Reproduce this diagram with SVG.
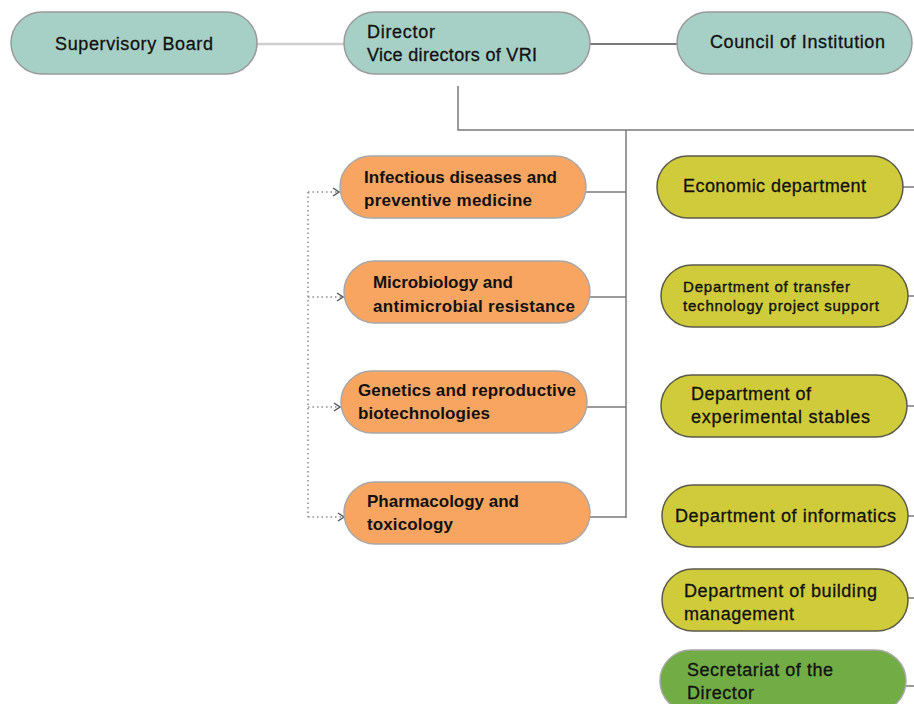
<svg xmlns="http://www.w3.org/2000/svg" width="914" height="704" viewBox="0 0 914 704">
  <style>
    .lbl { font-family: "Liberation Sans", Arial, sans-serif; fill: #111; }
    .top { font-size: 18px; stroke: #111; stroke-width: 0.3; }
    .unit { font-size: 17px; font-weight: bold; }
    .dept { font-size: 18px; stroke: #111; stroke-width: 0.3; }
    .dept-s { font-size: 15px; stroke: #111; stroke-width: 0.35; }
    .n-teal { fill: #a6cfc5; stroke: #9a9a9a; stroke-width: 1.5; }
    .n-orange { fill: #f9a562; stroke: #a8a8a8; stroke-width: 1.5; }
    .n-olive { fill: #cfcb3a; stroke: #5a5a4a; stroke-width: 1.5; }
    .n-green { fill: #71ac45; stroke: #a8a8a8; stroke-width: 1.5; }
    .ln { fill: none; stroke: #7a7a7a; stroke-width: 1.5; }
    .ln-light { fill: none; stroke: #cfcfcf; stroke-width: 2.5; }
    .ln-dark { fill: none; stroke: #7a7a7a; stroke-width: 2; }
    .dot { fill: none; stroke: #8a8a8a; stroke-width: 1.5; stroke-dasharray: 1.5 3; }
  </style>
  <defs>
    <marker id="chev" viewBox="0 0 8 10" refX="7" refY="5" markerWidth="8" markerHeight="10" markerUnits="userSpaceOnUse" orient="auto">
      <path d="M1,1 L7,5 L1,9" fill="none" stroke="#555" stroke-width="1.4"/>
    </marker>
  </defs>

  <rect width="914" height="704" fill="#ffffff"/>

  <!-- connectors -->
  <g id="connectors">
    <line class="ln-light" x1="257" y1="44" x2="344" y2="44"/>
    <line class="ln-dark" x1="590" y1="44" x2="677" y2="44"/>
    <polyline class="ln" points="458,86 458,130 914,130"/>
    <line class="ln" x1="626" y1="130" x2="626" y2="518"/>
    <line class="ln" x1="586" y1="192" x2="626" y2="192"/>
    <line class="ln" x1="590" y1="297" x2="626" y2="297"/>
    <line class="ln" x1="587" y1="407" x2="626" y2="407"/>
    <line class="ln" x1="590" y1="517" x2="626" y2="517"/>
    <!-- staff-side links out of frame -->
    <line class="ln" x1="903" y1="187" x2="914" y2="187"/>
    <line class="ln" x1="908" y1="296" x2="914" y2="296"/>
    <line class="ln" x1="907" y1="406" x2="914" y2="406"/>
    <line class="ln" x1="908" y1="516" x2="914" y2="516"/>
    <line class="ln" x1="908" y1="598" x2="914" y2="598"/>
    <line class="ln" x1="906" y1="686" x2="914" y2="686"/>
    <!-- dotted cross-links between research units -->
    <line class="dot" x1="308" y1="192" x2="308" y2="517"/>
    <line class="dot" x1="308" y1="192" x2="339" y2="192" marker-end="url(#chev)"/>
    <line class="dot" x1="308" y1="297" x2="343" y2="297" marker-end="url(#chev)"/>
    <line class="dot" x1="308" y1="407" x2="340" y2="407" marker-end="url(#chev)"/>
    <line class="dot" x1="308" y1="517" x2="344" y2="517" marker-end="url(#chev)"/>
  </g>

  <!-- governance -->
  <g id="supervisory-board">
    <rect class="n-teal" x="11" y="12" width="246" height="62" rx="31"/>
    <text class="lbl top" x="55" y="50" textLength="158">Supervisory Board</text>
  </g>
  <g id="director">
    <rect class="n-teal" x="344" y="12" width="246" height="62" rx="31"/>
    <text class="lbl top" x="367" y="38" textLength="68">Director</text>
    <text class="lbl top" x="367" y="61" textLength="170">Vice directors of VRI</text>
  </g>
  <g id="council">
    <rect class="n-teal" x="677" y="12" width="235" height="62" rx="31"/>
    <text class="lbl top" x="710" y="48" textLength="175">Council of Institution</text>
  </g>

  <!-- research units -->
  <g id="infectious-diseases">
    <rect class="n-orange" x="340" y="156" width="246" height="62" rx="31"/>
    <text class="lbl unit" x="364" y="183" textLength="193">Infectious diseases and</text>
    <text class="lbl unit" x="364" y="206" textLength="168">preventive medicine</text>
  </g>
  <g id="microbiology">
    <rect class="n-orange" x="344" y="261" width="246" height="62" rx="31"/>
    <text class="lbl unit" x="373" y="288" textLength="140">Microbiology and</text>
    <text class="lbl unit" x="373" y="312" textLength="202">antimicrobial resistance</text>
  </g>
  <g id="genetics">
    <rect class="n-orange" x="341" y="371" width="246" height="62" rx="31"/>
    <text class="lbl unit" x="358" y="396" textLength="218">Genetics and reproductive</text>
    <text class="lbl unit" x="358" y="419" textLength="132">biotechnologies</text>
  </g>
  <g id="pharmacology">
    <rect class="n-orange" x="344" y="482" width="246" height="62" rx="31"/>
    <text class="lbl unit" x="367" y="507" textLength="152">Pharmacology and</text>
    <text class="lbl unit" x="367" y="530" textLength="86">toxicology</text>
  </g>

  <!-- support departments -->
  <g id="economic">
    <rect class="n-olive" x="657" y="156" width="246" height="62" rx="31"/>
    <text class="lbl dept" x="683" y="192" textLength="183">Economic department</text>
  </g>
  <g id="transfer-technology">
    <rect class="n-olive" x="661" y="265" width="247" height="62" rx="31"/>
    <text class="lbl dept-s" x="683" y="292" textLength="167">Department of transfer</text>
    <text class="lbl dept-s" x="683" y="311" textLength="196">technology project support</text>
  </g>
  <g id="experimental-stables">
    <rect class="n-olive" x="661" y="375" width="246" height="62" rx="31"/>
    <text class="lbl dept" x="691" y="400" textLength="120">Department of</text>
    <text class="lbl dept" x="691" y="423" textLength="179">experimental stables</text>
  </g>
  <g id="informatics">
    <rect class="n-olive" x="662" y="485" width="246" height="62" rx="31"/>
    <text class="lbl dept" x="675" y="522" textLength="221">Department of informatics</text>
  </g>
  <g id="building-management">
    <rect class="n-olive" x="662" y="569" width="246" height="62" rx="31"/>
    <text class="lbl dept" x="684" y="597" textLength="193">Department of building</text>
    <text class="lbl dept" x="684" y="620" textLength="110">management</text>
  </g>
  <g id="secretariat">
    <rect class="n-green" x="660" y="650" width="246" height="62" rx="31"/>
    <text class="lbl dept" x="687" y="676" textLength="146">Secretariat of the</text>
    <text class="lbl dept" x="687" y="699" textLength="67">Director</text>
  </g>
</svg>
